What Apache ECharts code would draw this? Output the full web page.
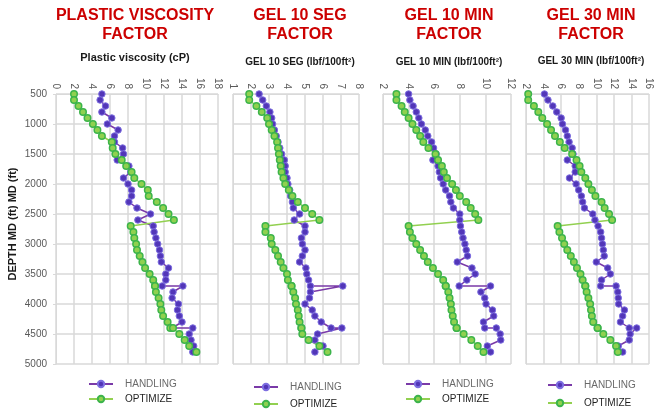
<!DOCTYPE html>
<html>
<head>
<meta charset="utf-8">
<script src="https://cdn.jsdelivr.net/npm/echarts@6/dist/echarts.min.js"></script>
<style>
  html, body { margin: 0; padding: 0; background: #fff; }
  #chart { width: 654px; height: 413px; }
</style>
</head>
<body>
<div id="chart"></div>
<script>
// depth (ft), 3700 and 4400 appear twice (spike readings)
var depth = [500, 600, 700, 800, 900, 1000, 1100, 1200, 1300, 1400, 1500, 1600, 1700, 1800, 1900, 2000,
  2100, 2200, 2300, 2400, 2500, 2600, 2700, 2800, 2900, 3000, 3100, 3200, 3300, 3400, 3500, 3600,
  3700, 3700, 3800, 3900, 4000, 4100, 4200, 4300, 4400, 4400, 4500, 4600, 4700, 4800];

// plastic viscosity (cP)
var pvHandling = [5.1, 4.9, 5.5, 5.1, 6.2, 5.7, 6.9, 6.5, 6.5, 7.4, 7.5, 6.8, 8.1, 8.3, 7.5, 8.0,
  8.4, 8.4, 8.1, 9.0, 10.5, 9.1, 10.8, 10.9, 11.1, 11.3, 11.5, 11.6, 11.7, 12.5, 12.2, 12.2,
  11.8, 14.1, 13.0, 12.9, 13.6, 13.5, 13.7, 14.0, 12.9, 15.2, 14.8, 15.0, 15.3, 15.2];
var pvOptimize = [2.0, 2.0, 2.5, 3.0, 3.5, 4.1, 4.6, 5.1, 6.2, 6.3, 6.6, 7.3, 7.8, 8.4, 8.7, 9.5,
  10.2, 10.3, 11.2, 11.9, 12.5, 13.1, 8.3, 8.6, 8.7, 8.9, 9.0, 9.3, 9.6, 9.9, 10.4, 10.8,
  11.0, 11.0, 11.1, 11.4, 11.6, 11.7, 11.9, 12.4, 12.7, 13.0, 13.7, 14.3, 14.8, 15.6];

// gel 10 seg (lbf/100ft2)
var g10sHandling = [2.45, 2.65, 2.85, 3.05, 3.15, 3.2, 3.3, 3.4, 3.5, 3.6, 3.7, 3.85, 3.9, 3.9, 4.0, 4.05,
  4.15, 4.2, 4.3, 4.35, 4.7, 4.4, 5.0, 5.0, 4.8, 4.85, 5.0, 4.85, 4.7, 5.05, 5.1, 5.2,
  5.3, 7.1, 5.3, 5.25, 5.0, 5.4, 5.55, 5.9, 6.45, 7.05, 5.7, 5.55, 6.0, 5.55];
var g10sOptimize = [1.9, 1.9, 2.3, 2.6, 2.9, 3.0, 3.15, 3.3, 3.45, 3.5, 3.55, 3.6, 3.65, 3.7, 3.8, 3.9,
  4.1, 4.3, 4.6, 5.0, 5.4, 5.8, 2.8, 2.8, 3.1, 3.15, 3.35, 3.5, 3.65, 3.8, 4.0, 4.05,
  4.25, 4.25, 4.35, 4.45, 4.5, 4.6, 4.65, 4.7, 4.8, 4.8, 4.85, 5.2, 5.8, 6.25];

// gel 10 min (lbf/100ft2)
var g10mHandling = [4.0, 4.1, 4.35, 4.6, 4.8, 5.0, 5.3, 5.5, 5.8, 5.95, 6.15, 5.9, 6.3, 6.4, 6.5, 6.7,
  6.9, 7.2, 7.3, 7.5, 8.0, 8.0, 8.05, 8.15, 8.25, 8.4, 8.5, 8.6, 7.8, 8.95, 9.2, 8.55,
  7.95, 10.4, 9.65, 9.95, 10.05, 10.55, 10.65, 9.85, 9.95, 10.85, 11.15, 11.2, 10.15, 10.4];
var g10mOptimize = [3.05, 3.05, 3.45, 3.7, 4.0, 4.3, 4.6, 4.9, 5.15, 5.55, 6.1, 6.3, 6.6, 6.75, 7.0, 7.4,
  7.7, 8.0, 8.5, 8.85, 9.2, 9.45, 4.0, 4.1, 4.3, 4.6, 4.9, 5.2, 5.5, 5.9, 6.3, 6.7,
  6.9, 6.9, 7.1, 7.2, 7.3, 7.35, 7.45, 7.55, 7.75, 7.75, 8.3, 8.9, 9.4, 9.85];

// gel 30 min (lbf/100ft2)
var g30mHandling = [4.1, 4.5, 5.05, 5.5, 6.0, 6.15, 6.5, 6.7, 6.9, 7.25, 7.35, 6.7, 7.6, 7.6, 6.95, 7.7,
  8.0, 8.3, 8.45, 8.65, 9.6, 9.85, 10.2, 10.5, 10.6, 10.7, 10.8, 10.9, 10.0, 11.3, 11.6, 10.6,
  10.5, 12.25, 12.45, 12.5, 12.55, 13.2, 13.0, 12.75, 13.75, 14.6, 13.85, 13.75, 12.5, 13.0];
var g30mOptimize = [2.25, 2.25, 2.9, 3.4, 3.85, 4.4, 4.85, 5.3, 5.85, 6.4, 7.25, 7.75, 8.1, 8.3, 8.75, 9.1,
  9.5, 9.9, 10.6, 10.95, 11.45, 11.8, 5.6, 5.8, 6.1, 6.35, 6.7, 7.1, 7.45, 7.8, 8.2, 8.45,
  8.75, 8.75, 8.9, 9.1, 9.3, 9.4, 9.5, 9.65, 10.15, 10.15, 10.8, 11.6, 12.25, 12.45];

var titles = ['PLASTIC VISCOSITY\nFACTOR', 'GEL 10 SEG\nFACTOR', 'GEL 10 MIN\nFACTOR', 'GEL 30 MIN\nFACTOR'];
var subtitles = ['Plastic viscosity (cP)', 'GEL 10 SEG (lbf/100ft²)', 'GEL 10 MIN (lbf/100ft²)', 'GEL 30 MIN (lbf/100ft²)'];
var xMin = [0, 1, 2, 2];
var xMax = [18, 8, 12, 16];
var xStep = [2, 1, 2, 2];

var panels = [
  { left: 56, width: 162, handling: pvHandling, optimize: pvOptimize, center: 130, subTop: 47, legendLeft: 83, legendTop: [374, 389] },
  { left: 233, width: 126, handling: g10sHandling, optimize: g10sOptimize, center: 295, subTop: 52, legendLeft: 248, legendTop: [377, 394] },
  { left: 383, width: 128, handling: g10mHandling, optimize: g10mOptimize, center: 444, subTop: 52, legendLeft: 400, legendTop: [374, 389] },
  { left: 526, width: 126, handling: g30mHandling, optimize: g30mOptimize, center: 586, subTop: 51, legendLeft: 542, legendTop: [375, 393] }
];

var gridColor = '#d9d9d9';
var labelColor = '#595959';

function pairs(xs) {
  return xs.map(function (v, i) { return [v, depth[i]]; });
}

var chart = echarts.init(document.getElementById('chart'));

var option = {
  backgroundColor: '#fff',
  animation: false,
  textStyle: { fontFamily: 'Liberation Sans, Arial, sans-serif' },
  title: [],
  legend: [],
  grid: [],
  xAxis: [],
  yAxis: [],
  series: [],
  graphic: [{
    type: 'text',
    x: 13,
    y: 224,
    rotation: Math.PI / 2,
    style: {
      text: 'DEPTH MD (ft) MD (ft)',
      fill: '#1a1a1a',
      font: 'bold 11px Liberation Sans, Arial, sans-serif',
      align: 'center',
      verticalAlign: 'middle'
    }
  }]
};

function legendItem(name, color, left, top) {
  return {
    left: left,
    top: top,
    orient: 'vertical',
    itemWidth: 24,
    itemHeight: 8,
    selectedMode: false,
    textStyle: { fontSize: 10, color: color, padding: [0, 0, 0, 7] },
    data: [name]
  };
}

panels.forEach(function (p, i) {
  option.title.push({
    text: titles[i],
    left: p.center,
    top: 1,
    textAlign: 'center',
    textStyle: { color: '#cc0000', fontSize: 16, fontWeight: 'bold', lineHeight: 19 }
  });
  option.title.push({
    text: subtitles[i],
    left: p.center,
    top: p.subTop,
    textAlign: 'center',
    textStyle: { color: '#1a1a1a', fontSize: i === 0 ? 11 : 10, fontWeight: 'bold' }
  });
  option.grid.push({ left: p.left, width: p.width, top: 94, height: 270, containLabel: false });
  option.xAxis.push({
    type: 'value',
    gridIndex: i,
    position: 'top',
    min: xMin[i],
    max: xMax[i],
    interval: xStep[i],
    axisLine: { show: true, lineStyle: { color: gridColor } },
    axisTick: { show: false },
    axisLabel: { rotate: 90, color: labelColor, fontSize: 10, margin: 5 },
    splitLine: { show: true, lineStyle: { color: gridColor, width: 1.5 } }
  });
  option.yAxis.push({
    type: 'value',
    gridIndex: i,
    inverse: true,
    min: 500,
    max: 5000,
    interval: 500,
    axisLine: { show: true, lineStyle: { color: gridColor } },
    axisTick: { show: i === 0, length: 3, lineStyle: { color: gridColor } },
    axisLabel: {
      show: i === 0, color: labelColor, fontSize: 10, margin: 9,
      formatter: function (v) { return String(v); }
    },
    splitLine: { show: true, lineStyle: { color: gridColor, width: 1.5 } }
  });
  option.series.push({
    name: 'HANDLING',
    type: 'line',
    xAxisIndex: i,
    yAxisIndex: i,
    data: pairs(p.handling),
    symbol: 'circle',
    symbolSize: 6.5,
    lineStyle: { color: '#7a3aa8', width: 1.5 },
    itemStyle: { color: '#5236b8', borderColor: '#7d6ee0', borderWidth: 1 }
  });
  option.series.push({
    name: 'OPTIMIZE',
    type: 'line',
    xAxisIndex: i,
    yAxisIndex: i,
    data: pairs(p.optimize),
    symbol: 'circle',
    symbolSize: 6.5,
    lineStyle: { color: '#92d050', width: 1.5 },
    itemStyle: { color: '#8fd14f', borderColor: '#3cb44b', borderWidth: 1.5 }
  });
  option.legend.push(legendItem('HANDLING', '#6a6a6a', p.legendLeft, p.legendTop[0]));
  option.legend.push(legendItem('OPTIMIZE', '#1f1f1f', p.legendLeft, p.legendTop[1]));
});

chart.setOption(option);
</script>
</body>
</html>
